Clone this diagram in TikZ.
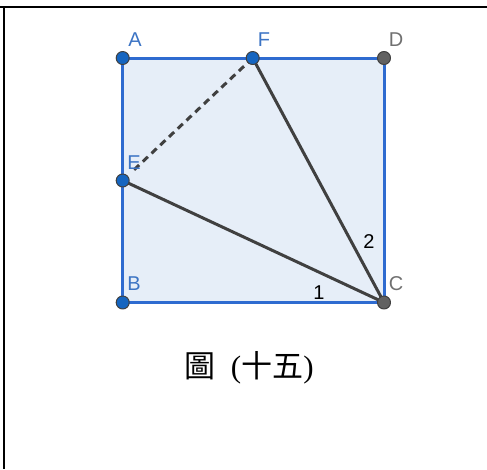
\documentclass[tikz,border=0pt]{standalone}
\usepackage{fontspec}
\setmainfont{Liberation Serif}
\newfontfamily\labelfont{Liberation Sans}
\newfontfamily\cjk{Noto Sans CJK TC}
\usepackage{tikz}
\usetikzlibrary{
    positioning,
    calc
}
\definecolor{ink}     {HTML}{000000}
\definecolor{edgeblue}{HTML}{2E6BD0}
\definecolor{sqfill}  {HTML}{E6EEF8}
\definecolor{ptblue}  {HTML}{1565C0}
\definecolor{ptgray}  {HTML}{616161}
\definecolor{segray}  {HTML}{404040}
\definecolor{lblblue} {HTML}{3C74C4}
\definecolor{lblgray} {HTML}{707070}

\begin{document}
\begin{tikzpicture}[
    x=1pt, y=-1pt,
    line cap=round, line join=round,
    %% --- semantic styles ---
    frameline/.style = {draw=ink, line width=1.8pt, line cap=butt},
    sqedge/.style    = {draw=edgeblue, line width=3pt, fill=sqfill},
    seg/.style       = {draw=segray, line width=3pt},
    hidseg/.style    = {draw=segray, line width=3pt, line cap=butt,
                        dash pattern=on 7pt off 5pt},
    dotblue/.style   = {circle, fill=ptblue, draw=ink!75, line width=1pt,
                        minimum size=13pt, inner sep=0pt},
    dotgray/.style   = {circle, fill=ptgray, draw=ink!75, line width=1pt,
                        minimum size=13pt, inner sep=0pt},
    ptlabel/.style   = {font=\labelfont\fontsize{20}{20}\selectfont,
                        inner sep=0pt},
    anglabel/.style  = {font=\labelfont\fontsize{20}{20}\selectfont,
                        text=ink, inner sep=0pt},
    caption/.style   = {font=\fontsize{31}{31}\selectfont, inner sep=0pt}
]
\useasboundingbox (0,0) rectangle (487,469);

%% =====================================================
%% Frame
%% =====================================================
\coordinate (FR1) at (0,7);
\coordinate (FR2) at (487,7);
\coordinate (FR3) at (4,7);
\coordinate (FR4) at (4,469);
\draw[frameline] (FR1) -- (FR2);
\draw[frameline] (FR3) -- (FR4);

%% =====================================================
%% Square ABCD
%% =====================================================
\coordinate (A) at (122.7,58);
\coordinate (F) at (252.7,58);
\coordinate (D) at (384,58);
\coordinate (E) at (122.7,180.5);
\coordinate (B) at (122.7,302.5);
\coordinate (C) at (384,302.5);

\draw[sqedge] (A) -- (D) -- (C) -- (B) -- cycle;

% Segments from C, and the fold line EF
\draw[seg] (E) -- (C);
\draw[seg] (F) -- (C);
\draw[hidseg, shorten >=14pt] (F) -- (E);

%% =====================================================
%% Points
%% =====================================================
\foreach \P in {A, F, E, B}
    \node[dotblue] (p\P) at (\P) {};
\foreach \P in {D, C}
    \node[dotgray] (p\P) at (\P) {};

%% =====================================================
%% Labels
%% =====================================================
\node[ptlabel, text=lblblue] (lA) at (135,40)  {A};
\node[ptlabel, text=lblblue] (lF) at (264,40)  {F};
\node[ptlabel, text=lblgray] (lD) at (396,40)  {D};
\node[ptlabel, text=lblblue] (lE) at (134,163) {E};
\node[ptlabel, text=lblblue] (lB) at (134,284) {B};
\node[ptlabel, text=lblgray] (lC) at (396,284) {C};

\node[anglabel] (a1) at (319,293) {1};
\node[anglabel] (a2) at (369,242) {2};

%% =====================================================
%% Caption
%% =====================================================
\node[caption] (CAP) at (249,368) {{\cjk 圖}\ \ ({\cjk 十五})};

\end{tikzpicture}
\end{document}
